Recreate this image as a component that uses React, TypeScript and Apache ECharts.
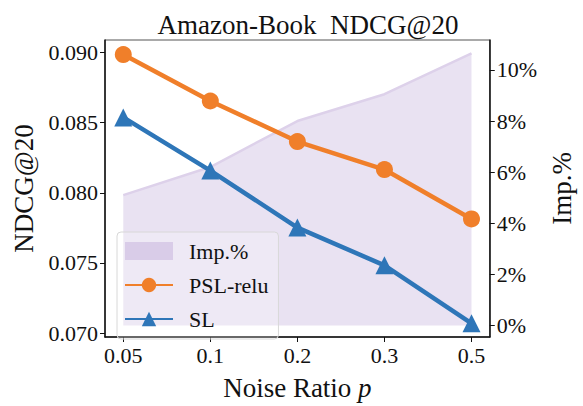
import React, { useEffect, useRef } from "react";
import * as echarts from "echarts";

const categories = ["0.05", "0.1", "0.2", "0.3", "0.5"];
const pslRelu = [0.08986, 0.08655, 0.08366, 0.08166, 0.07814];
const sl = [0.08538, 0.08159, 0.07752, 0.07483, 0.0707];
const impPct = [5.1, 6.2, 8.0, 9.05, 10.65];
const leftTicks = [0.07, 0.075, 0.08, 0.085, 0.09];
const rightTicks = [0, 2, 4, 6, 8, 10];

const FONT = "'Liberation Serif', 'Times New Roman', serif";

export default function App() {
  const ref = useRef<HTMLDivElement>(null);
  useEffect(() => {
    if (!ref.current) return;
    const chart = echarts.init(ref.current, undefined, { renderer: "svg" });
    const idx = categories.map((_, i) => i);
    chart.setOption({
      animation: false,
      backgroundColor: "#ffffff",
      textStyle: { fontFamily: FONT },
      title: {
        text: "Amazon-Book  NDCG@20",
        left: 303,
        textAlign: "center",
        top: 6,
        textStyle: { fontFamily: FONT, fontSize: 27, fontWeight: "normal", color: "#111" },
      },
      grid: {
        left: 105,
        right: 80,
        top: 40,
        bottom: 59,
        show: true,
        borderColor: "#555",
        borderWidth: 1,
      },
      legend: {
        orient: "vertical",
        left: 117,
        top: 232,
        padding: [8, 10, 9, 7],
        itemGap: 12,
        itemWidth: 48,
        itemHeight: 18,
        backgroundColor: "rgba(255,255,255,0.25)",
        borderColor: "#d8d8d8",
        borderWidth: 1,
        borderRadius: 4,
        textStyle: { fontFamily: FONT, fontSize: 22, color: "#111", padding: [0, 0, 0, 11] },
        data: [
          { name: "Imp.%", icon: "rect", itemStyle: { color: "#d9cce8" } },
          { name: "PSL-relu" },
          { name: "SL" },
        ],
        z: 20,
      },
      xAxis: {
        type: "value",
        min: -0.21,
        max: 4.21,
        name: "Noise Ratio {i|p}",
        nameLocation: "middle",
        nameGap: 37,
        nameTextStyle: {
          fontFamily: FONT,
          fontSize: 27,
          color: "#111",
          rich: { i: { fontFamily: FONT, fontSize: 27, fontStyle: "italic", color: "#111" } },
        },
        axisLine: { show: true, onZero: false, lineStyle: { color: "#111", width: 1.5 } },
        axisTick: { show: true, length: 5, lineStyle: { color: "#111" }, customValues: idx },
        axisLabel: {
          customValues: idx,
          formatter: (v: number) => categories[Math.round(v)] ?? "",
          fontFamily: FONT,
          fontSize: 22,
          color: "#111",
          margin: 7,
        },
        splitLine: { show: false },
      },
      yAxis: [
        {
          type: "value",
          min: 0.06972,
          max: 0.0909,
          name: "NDCG@20",
          nameLocation: "middle",
          nameGap: 64,
          nameTextStyle: { fontFamily: FONT, fontSize: 27, color: "#111" },
          axisLine: { show: true, onZero: false, lineStyle: { color: "#111", width: 1.5 } },
          axisTick: { show: true, length: 5, lineStyle: { color: "#111" }, customValues: leftTicks },
          axisLabel: {
            customValues: leftTicks,
            formatter: (v: number) => v.toFixed(3),
            fontFamily: FONT,
            fontSize: 22,
            color: "#111",
            margin: 7,
          },
          splitLine: { show: false },
        },
        {
          type: "value",
          min: -0.45,
          max: 11.17,
          position: "right",
          name: "Imp.%",
          nameLocation: "middle",
          nameGap: 53,
          nameRotate: 90,
          nameTextStyle: { fontFamily: FONT, fontSize: 27, color: "#111" },
          axisLine: { show: true, onZero: false, lineStyle: { color: "#111", width: 1.5 } },
          axisTick: { show: true, length: 5, lineStyle: { color: "#111" }, customValues: rightTicks },
          axisLabel: {
            customValues: rightTicks,
            formatter: (v: number) => `${Math.round(v)}%`,
            fontFamily: FONT,
            fontSize: 22,
            color: "#111",
            margin: 7,
          },
          splitLine: { show: false },
        },
      ],
      series: [
        {
          name: "Imp.%",
          type: "line",
          yAxisIndex: 1,
          data: impPct.map((v, i) => [i, v]),
          showSymbol: false,
          symbol: "none",
          lineStyle: { color: "#ddd1ea", width: 2.5 },
          itemStyle: { color: "#d9cce8" },
          areaStyle: { color: "#e9e2f2", opacity: 1, origin: 0 },
          z: 1,
        },
        {
          name: "PSL-relu",
          type: "line",
          yAxisIndex: 0,
          data: pslRelu.map((v, i) => [i, v]),
          symbol: "circle",
          symbolSize: 17,
          lineStyle: { color: "#f07f2a", width: 4.5 },
          itemStyle: { color: "#f07f2a" },
          z: 5,
        },
        {
          name: "SL",
          type: "line",
          yAxisIndex: 0,
          data: sl.map((v, i) => [i, v]),
          symbol: "triangle",
          symbolSize: 18,
          lineStyle: { color: "#2e76b8", width: 4.5 },
          itemStyle: { color: "#2e76b8" },
          z: 4,
        },
      ],
    });
    return () => chart.dispose();
  }, []);
  return (
    <div
      ref={ref}
      style={{ position: "fixed", left: 0, top: 0, width: 583, height: 406 }}
    />
  );
}
